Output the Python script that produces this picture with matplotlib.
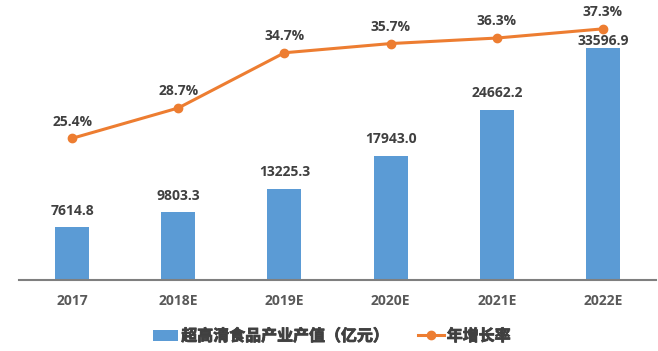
import matplotlib.pyplot as plt
import matplotlib.patheffects as pe
import numpy as np

# ------------------ DATA ------------------

years = ['2017', '2018E', '2019E', '2020E', '2021E', '2022E']
output_value = [7614.8, 9803.3, 13225.3, 17943.0, 24662.2, 33596.9]   # 亿元
growth_rate = [25.4, 28.7, 34.7, 35.7, 36.3, 37.3]                  # %

bar_color = '#5B9BD5'
line_color = '#ED7D31'
text_color = '#404040'

num_font = ['Open Sans', 'DejaVu Sans']
cjk_font = ['Noto Sans CJK SC', 'DejaVu Sans']

# ------------------ PLOT ------------------

fig = plt.figure(figsize=(6.58, 3.51), dpi=100)
ax = fig.add_axes([0.029, 0.2023, 0.968, 0.7863])
x = np.arange(len(years))

bars = ax.bar(x, output_value, width=0.32, color=bar_color, label='超高清食品产业产值（亿元）', zorder=2)
ax.set_xlim(-0.5, len(years) - 0.5)
ax.set_ylim(0, 40000)
for i, (xi, v) in enumerate(zip(x, output_value)):
    # last label sits tight on the bar so it clears the line marker
    off = 0 if i == len(years) - 1 else 7
    ax.annotate('{:.1f}'.format(v), (xi, v), xytext=(0, off), textcoords='offset points',
                ha='center', va='bottom', fontsize=10, fontweight='bold',
                color=text_color, family=num_font, zorder=5)

for s in ['top', 'right', 'left']:
    ax.spines[s].set_visible(False)
ax.spines['bottom'].set_color('#7F7F7F')
ax.spines['bottom'].set_linewidth(1.5)
ax.set_yticks([])
ax.set_xticks(x)
ax.set_xticklabels(years, fontsize=10, fontweight='bold', color='#595959', family=num_font)
ax.tick_params(axis='x', length=0, pad=10)

ax2 = ax.twinx()
line, = ax2.plot(x, growth_rate, color=line_color, lw=2.2, marker='o', markersize=6,
                 label='年增长率', zorder=3)
ax2.set_ylim(10, 40)
ax2.axis('off')
for xi, v in zip(x, growth_rate):
    ax2.annotate('{:.1f}%'.format(v), (xi, v), xytext=(0, 7), textcoords='offset points',
                 ha='center', va='bottom', fontsize=10, fontweight='bold',
                 color=text_color, family=num_font)

leg = fig.legend(handles=[bars, line], loc='center', bbox_to_anchor=(0.504, 0.043), ncol=2,
                 frameon=False, handlelength=1.6, handletextpad=0.2, columnspacing=1.8,
                 prop={'family': cjk_font, 'weight': 'bold', 'size': 11.5})
for t in leg.get_texts():
    t.set_color(text_color)
    t.set_path_effects([pe.withStroke(linewidth=0.6, foreground=text_color)])

plt.savefig('out.png', dpi=100)
